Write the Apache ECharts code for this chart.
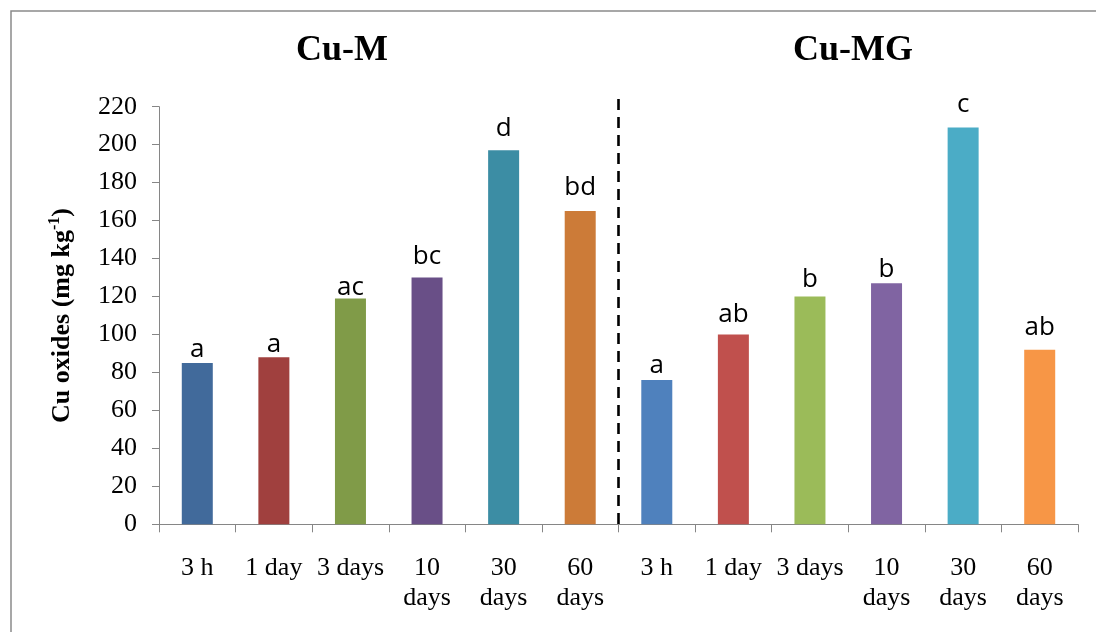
<!DOCTYPE html>
<html>
<head>
<meta charset="utf-8">
<script src="https://cdn.jsdelivr.net/npm/echarts@6/dist/echarts.min.js"></script>
<style>
  html, body { margin: 0; padding: 0; background: #fff; }
  #chart { width: 1096px; height: 632px; }
</style>
</head>
<body>
<div id="chart"></div>
<script>
// Sampling times, repeated for the two treatments
const times = ['3 h', '1 day', '3 days', '10\ndays', '30\ndays', '60\ndays'];
const categories = times.concat(times);

// Cu oxides (mg kg-1) per sampling time
const cuM = [85, 88, 119, 130, 197, 165];
const cuMG = [76, 100, 120, 127, 209, 92];

// Significance letters shown above each bar
const lettersM = ['a', 'a', 'ac', 'bc', 'd', 'bd'];
const lettersMG = ['a', 'ab', 'b', 'b', 'c', 'ab'];

// Y axis ticks
const yMin = 0, yMax = 220, yStep = 20;

// Treatment headings
const groupTitles = ['Cu-M', 'Cu-MG'];

// Bar fills, one per bar
const colorsM = ['#416A9B', '#A0403E', '#809B48', '#694F87', '#3C8DA4', '#CC7B38'];
const colorsMG = ['#4F81BD', '#C0504D', '#9BBB59', '#8064A2', '#4BACC6', '#F79646'];

// Extra space between each letter and its bar
const letterGap = [0, 0, -2, 8, 9, 11, 1, 7, 4, 1, 10, 9];

const values = cuM.concat(cuMG);
const letters = lettersM.concat(lettersMG);
const colors = colorsM.concat(colorsMG);

const barData = values.map((v, i) => ({
  value: v,
  itemStyle: { color: colors[i] },
  label: { formatter: letters[i], distance: letterGap[i] }
}));

const serif = '"Liberation Serif", "Times New Roman", serif';

const chart = echarts.init(document.getElementById('chart'), null, { renderer: 'canvas' });

chart.setOption({
  animation: false,
  backgroundColor: '#ffffff',
  title: [
    {
      text: groupTitles[0], left: 342, top: 33, textAlign: 'center', padding: 0,
      textStyle: { fontFamily: serif, fontWeight: 'bold', fontSize: 36, color: '#000' }
    },
    {
      text: groupTitles[1], left: 853, top: 33, textAlign: 'center', padding: 0,
      textStyle: { fontFamily: serif, fontWeight: 'bold', fontSize: 36, color: '#000' }
    }
  ],
  graphic: [
    {
      type: 'rect', silent: true, z: -1,
      shape: { x: 11, y: 11, width: 1200, height: 700 },
      style: { fill: 'none', stroke: '#8a8a8a', lineWidth: 1.5 }
    }
  ],
  grid: { left: 159, right: 18, top: 106.7, bottom: 107.7, containLabel: false },
  xAxis: [
    {
      type: 'category',
      data: categories,
      axisLine: { lineStyle: { color: '#868686', width: 1 } },
      axisTick: { show: true, length: 8, lineStyle: { color: '#868686' } },
      axisLabel: {
        interval: 0, margin: 29, color: '#000',
        fontFamily: serif, fontSize: 26, lineHeight: 30
      },
      splitLine: { show: false }
    },
    { type: 'value', min: 0, max: 12, show: false }
  ],
  yAxis: {
    type: 'value',
    min: yMin, max: yMax, interval: yStep,
    name: '{b|Cu oxides (mg kg}{sup|-1}{b|)}',
    nameLocation: 'middle',
    nameGap: 82,
    nameRotate: 90,
    nameTextStyle: {
      rich: {
        b: { fontFamily: serif, fontWeight: 'bold', fontSize: 26, color: '#000', lineHeight: 30 },
        sup: { fontFamily: serif, fontWeight: 'bold', fontSize: 16, color: '#000', verticalAlign: 'top', lineHeight: 30 }
      }
    },
    axisLine: { show: true, lineStyle: { color: '#868686', width: 1 } },
    axisTick: { show: true, length: 7, lineStyle: { color: '#868686' } },
    axisLabel: { margin: 22, color: '#000', fontFamily: serif, fontSize: 26 },
    splitLine: { show: false }
  },
  series: [
    {
      type: 'bar',
      data: barData,
      barWidth: 31,
      label: {
        show: true, position: 'top', color: '#000',
        fontFamily: '"Open Sans", "Liberation Sans", sans-serif',
        fontSize: 26, lineHeight: 26
      }
    },
    {
      // divider between the two treatments
      type: 'line',
      xAxisIndex: 1,
      data: [[6, 224], [6, 0]],
      symbol: 'none',
      clip: false,
      silent: true,
      z: 5,
      lineStyle: { color: '#000', width: 2.6, type: [11, 7] }
    }
  ]
});
</script>
</body>
</html>
